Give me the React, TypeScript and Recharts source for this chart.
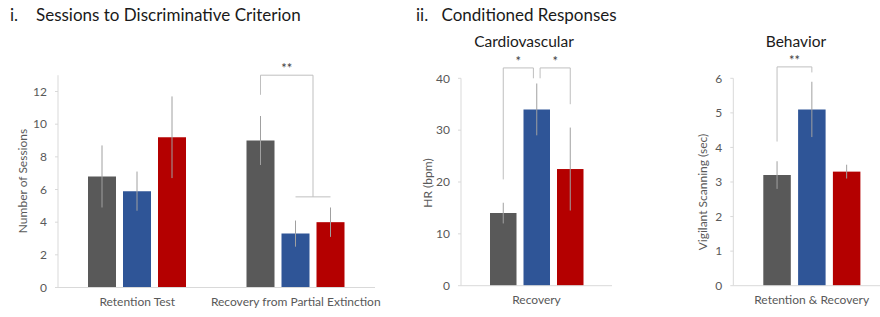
import { BarChart, Bar, XAxis, YAxis, ErrorBar } from "recharts"

// panel i: sessions to criterion
const sessionCategories = ["Retention Test", "Recovery from Partial Extinction"]
const sessionsGray = [6.8, 9.0]
const sessionsGrayErr = [1.9, 1.5]
const sessionsBlue = [5.9, 3.3]
const sessionsBlueErr = [1.2, 0.8]
const sessionsRed = [9.2, 4.0]
const sessionsRedErr = [2.5, 0.9]
const sessionTicks = [0, 2, 4, 6, 8, 10, 12]

// panel ii: cardiovascular
const cardioCategories = ["Recovery"]
const cardioGray = [14]
const cardioGrayErr = [2]
const cardioBlue = [34]
const cardioBlueErr = [5]
const cardioRed = [22.5]
const cardioRedErr = [8]
const cardioTicks = [0, 10, 20, 30, 40]

// panel ii: behavior
const behaviorCategories = ["Retention & Recovery"]
const behaviorGray = [3.2]
const behaviorGrayErr = [0.4]
const behaviorBlue = [5.1]
const behaviorBlueErr = [0.8]
const behaviorRed = [3.3]
const behaviorRedErr = [0.2]
const behaviorTicks = [0, 1, 2, 3, 4, 5, 6]

// significance brackets, bar positions 0 = gray, 1 = blue, 2 = red
interface Bracket {
  cat: number
  x1: number
  x2: number
  y1: number
  top: number
  y2: number
  label: string
  foot?: [number, number]
}

const sessionBrackets: Bracket[] = [
  { cat: 1, x1: 0, x2: 1.5, y1: 11.8, top: 13, y2: 5.55, label: "**", foot: [1, 2] },
]
const cardioBrackets: Bracket[] = [
  { cat: 0, x1: 0, x2: 0.9, y1: 20.5, top: 42, y2: 40, label: "*" },
  { cat: 0, x1: 1.1, x2: 2, y1: 40, top: 42, y2: 35, label: "*" },
]
const behaviorBrackets: Bracket[] = [
  { cat: 0, x1: 0, x2: 1, y1: 4.17, top: 6.33, y2: 6.17, label: "**" },
]

const GRAY = "#595959"
const BLUE = "#2F5597"
const RED = "#B40000"
const AXIS = "#d9d9d9"
const ERR = "#a0a0a0"
const BRACKET = "#bfbfbf"
const TICK = { fontSize: 12, fill: "#595959" }

function bracketShape(brackets: Bracket[], barGap: number) {
  return (props: any) => {
    const { x, y, width, height, value, index, fill } = props
    const v = Array.isArray(value) ? value[1] : value
    const unit = height / v
    const base = y + height
    const yOf = (d: number) => base - d * unit
    const cx = (k: number) => x + width / 2 + (k - 2) * (width + barGap)
    return (
      <g>
        <rect x={x} y={y} width={width} height={height} fill={fill} />
        {brackets
          .filter((b) => b.cat === index)
          .map((b, i) => (
            <g key={i}>
              <polyline
                points={`${cx(b.x1)},${yOf(b.y1)} ${cx(b.x1)},${yOf(b.top)} ${cx(b.x2)},${yOf(b.top)} ${cx(b.x2)},${yOf(b.y2)}`}
                fill="none"
                stroke={BRACKET}
              />
              {b.foot && (
                <line
                  x1={cx(b.foot[0])}
                  x2={cx(b.foot[1])}
                  y1={yOf(b.y2)}
                  y2={yOf(b.y2)}
                  stroke={BRACKET}
                />
              )}
              <text
                x={(cx(b.x1) + cx(b.x2)) / 2}
                y={yOf(b.top) - 2}
                textAnchor="middle"
                fontSize={13}
                fill="#404040"
              >
                {b.label}
              </text>
            </g>
          ))}
      </g>
    )
  }
}

interface PanelProps {
  categories: string[]
  gray: number[]
  grayErr: number[]
  blue: number[]
  blueErr: number[]
  red: number[]
  redErr: number[]
  ticks: number[]
  domain: [number, number]
  brackets: Bracket[]
  left: number
  width: number
  axisWidth: number
  top: number
  right: number
  xAxisHeight: number
  barSize: number
  barGap: number
}

function Panel(p: PanelProps) {
  const data = p.categories.map((name, i) => ({
    name,
    gray: p.gray[i],
    grayErr: p.grayErr[i],
    blue: p.blue[i],
    blueErr: p.blueErr[i],
    red: p.red[i],
    redErr: p.redErr[i],
  }))
  return (
    <div style={{ position: "absolute", left: p.left, top: 0 }}>
      <BarChart
        width={p.width}
        height={317}
        data={data}
        margin={{ top: p.top, right: p.right, left: 0, bottom: 0 }}
        barSize={p.barSize}
        barGap={p.barGap}
      >
        <XAxis
          dataKey="name"
          height={p.xAxisHeight}
          stroke={AXIS}
          tickLine={false}
          tick={{ fontSize: 12, fill: "#595959" }}
          tickMargin={4}
        />
        <YAxis
          width={p.axisWidth}
          domain={p.domain}
          ticks={p.ticks}
          stroke={AXIS}
          tickSize={3}
          tick={TICK}
          tickMargin={8}
        />
        <Bar dataKey="gray" fill={GRAY} isAnimationActive={false}>
          <ErrorBar dataKey="grayErr" width={0} stroke={ERR} strokeWidth={1} />
        </Bar>
        <Bar dataKey="blue" fill={BLUE} isAnimationActive={false}>
          <ErrorBar dataKey="blueErr" width={0} stroke={ERR} strokeWidth={1} />
        </Bar>
        <Bar
          dataKey="red"
          fill={RED}
          isAnimationActive={false}
          shape={bracketShape(p.brackets, p.barGap)}
        >
          <ErrorBar dataKey="redErr" width={0} stroke={ERR} strokeWidth={1} />
        </Bar>
      </BarChart>
    </div>
  )
}

export default function App() {
  return (
    <div
      style={{
        position: "absolute",
        left: 0,
        top: 0,
        width: 880,
        height: 317,
        overflow: "hidden",
        background: "#fff",
        fontFamily: "Lato, sans-serif",
      }}
    >
      <Panel
        categories={sessionCategories}
        gray={sessionsGray}
        grayErr={sessionsGrayErr}
        blue={sessionsBlue}
        blueErr={sessionsBlueErr}
        red={sessionsRed}
        redErr={sessionsRedErr}
        ticks={sessionTicks}
        domain={[0, 13]}
        brackets={sessionBrackets}
        left={0}
        width={390}
        axisWidth={58}
        top={75.2}
        right={15}
        xAxisHeight={29.5}
        barSize={28}
        barGap={7}
      />
      <Panel
        categories={cardioCategories}
        gray={cardioGray}
        grayErr={cardioGrayErr}
        blue={cardioBlue}
        blueErr={cardioBlueErr}
        red={cardioRed}
        redErr={cardioRedErr}
        ticks={cardioTicks}
        domain={[0, 40]}
        brackets={cardioBrackets}
        left={400}
        width={230}
        axisWidth={61}
        top={78.3}
        right={18}
        xAxisHeight={31.3}
        barSize={26.5}
        barGap={7}
      />
      <Panel
        categories={behaviorCategories}
        gray={behaviorGray}
        grayErr={behaviorGrayErr}
        blue={behaviorBlue}
        blueErr={behaviorBlueErr}
        red={behaviorRed}
        redErr={behaviorRedErr}
        ticks={behaviorTicks}
        domain={[0, 6]}
        brackets={behaviorBrackets}
        left={640}
        width={250}
        axisWidth={93.3}
        top={78.3}
        right={0}
        xAxisHeight={31.3}
        barSize={27.5}
        barGap={7.3}
      />
      <svg
        width={880}
        height={317}
        style={{ position: "absolute", left: 0, top: 0, pointerEvents: "none" }}
      >
        <g fill="#1a1a1a" fontSize={17}>
          <text x={10} y={20.5}>i.</text>
          <text x={36} y={20.5}>Sessions to Discriminative Criterion</text>
          <text x={416} y={20.5}>ii.</text>
          <text x={441.5} y={20.5}>Conditioned Responses</text>
        </g>
        <g fill="#1a1a1a" fontSize={15.5} textAnchor="middle">
          <text x={524} y={46.7}>Cardiovascular</text>
          <text x={796} y={46.7}>Behavior</text>
        </g>
        <g fill="#595959" fontSize={12} textAnchor="middle">
          <text transform="translate(27,181) rotate(-90)">Number of Sessions</text>
          <text transform="translate(432,183) rotate(-90)">HR (bpm)</text>
          <text transform="translate(707,192) rotate(-90)">Vigilant Scanning (sec)</text>
        </g>
      </svg>
    </div>
  )
}
